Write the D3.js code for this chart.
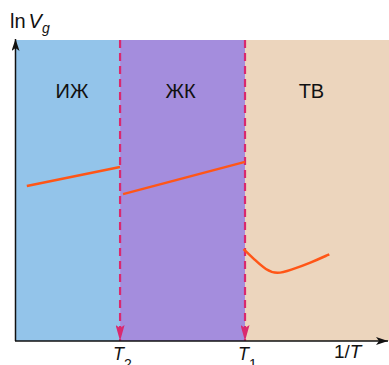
<!DOCTYPE html>
<html>
<head>
<meta charset="utf-8">
<script src="https://cdn.jsdelivr.net/npm/d3@7"></script>
<style>
  body { margin: 0; background: #fff; }
  text { font-family: "Liberation Sans", Arial, sans-serif; }
</style>
</head>
<body>
<svg id="chart" width="389" height="365"></svg>
<script>
// phase regions along 1/T (arbitrary units)
var regions = ["ИЖ", "ЖК", "ТВ"]
var regionStart = [0, 2.79, 6.14]
var regionEnd = [2.79, 6.14, 10]
var regionColors = ["#93c4ea", "#a48ddd", "#ecd5bd"]

// transition temperatures
var transitions = [2.79, 6.14]
var transitionLabels = ["2", "1"]

// ln Vg curves for each phase
var lineIZh = [[0.29, 5.15], [2.79, 5.78]]
var lineZhK = [[2.87, 4.88], [6.14, 5.95]]
var lineTV = [[6.1, 3.05], [6.4, 2.7], [6.7, 2.36], [7.0, 2.22], [7.35, 2.35], [7.9, 2.6], [8.4, 2.88]]

var dimensions = {
    margin: { top: 40, bottom: 24, left: 16, right: 0 },
    width: 389,
    height: 365
}

var svg = d3.select("#chart")

var x = d3.scaleLinear()
    .domain([0, 10])
    .range([dimensions.margin.left, dimensions.width - dimensions.margin.right])

var y = d3.scaleLinear()
    .domain([0, 10])
    .range([dimensions.height - dimensions.margin.bottom, dimensions.margin.top])

var defs = svg.append("defs")
defs.append("marker")
    .attr("id", "ax")
    .attr("viewBox", "0 0 12 8")
    .attr("refX", 12).attr("refY", 4)
    .attr("markerWidth", 12).attr("markerHeight", 8)
    .attr("markerUnits", "userSpaceOnUse")
    .attr("orient", "auto")
    .append("path").attr("d", "M0,0 L12,4 L0,8 L3,4 Z").attr("fill", "#111")
defs.append("marker")
    .attr("id", "tr")
    .attr("viewBox", "0 0 16 9")
    .attr("refX", 16).attr("refY", 4.5)
    .attr("markerWidth", 16).attr("markerHeight", 9)
    .attr("markerUnits", "userSpaceOnUse")
    .attr("orient", "auto")
    .append("path").attr("d", "M0,0 L16,4.5 L0,9 L3,4.5 Z").attr("fill", "#d9296f")

// background bands
svg.append("g")
    .selectAll("rect")
    .data(regions)
    .enter()
    .append("rect")
        .attr("x", function(d, i){ return x(regionStart[i]) })
        .attr("width", function(d, i){ return x(regionEnd[i]) - x(regionStart[i]) })
        .attr("y", y(10))
        .attr("height", y(0) - y(10))
        .attr("fill", function(d, i){ return regionColors[i] })

svg.append("g")
    .selectAll("text")
    .data(regions)
    .enter()
    .append("text")
        .attr("x", function(d, i){ return i == 2 ? x(7.92) : (x(regionStart[i]) + x(regionEnd[i])) / 2 - (i == 0 ? -4 : 2) })
        .attr("y", 98)
        .attr("text-anchor", "middle")
        .attr("font-size", 20)
        .attr("fill", "#111")
        .text(function(d){ return d })

// dashed transition lines
svg.append("g")
    .selectAll("line")
    .data(transitions)
    .enter()
    .append("line")
        .attr("x1", function(d){ return x(d) })
        .attr("x2", function(d){ return x(d) })
        .attr("y1", y(10))
        .attr("y2", y(0))
        .attr("stroke", "#d9296f")
        .attr("stroke-width", 2.2)
        .attr("stroke-dasharray", "8,5")
        .attr("marker-end", "url(#tr)")

// curves
var line = d3.line().x(function(d){ return x(d[0]) }).y(function(d){ return y(d[1]) })
var curve = d3.line().x(function(d){ return x(d[0]) }).y(function(d){ return y(d[1]) }).curve(d3.curveBasis)

svg.append("path").datum(lineIZh).attr("d", line)
    .attr("fill", "none").attr("stroke", "#ff5617").attr("stroke-width", 2.5)
svg.append("path").datum(lineZhK).attr("d", line)
    .attr("fill", "none").attr("stroke", "#ff5617").attr("stroke-width", 2.5)
svg.append("path").datum(lineTV).attr("d", curve)
    .attr("fill", "none").attr("stroke", "#ff5617").attr("stroke-width", 2.5)

// axes
svg.append("line")
    .attr("x1", x(0) - 1).attr("x2", x(10) - 1)
    .attr("y1", y(0)).attr("y2", y(0))
    .attr("stroke", "#111").attr("stroke-width", 1.5)
    .attr("marker-end", "url(#ax)")
svg.append("line")
    .attr("x1", x(0) - 0.5).attr("x2", x(0) - 0.5)
    .attr("y1", y(0)).attr("y2", y(10) - 1)
    .attr("stroke", "#111").attr("stroke-width", 1.5)
    .attr("marker-end", "url(#ax)")

// axis labels
var yl = svg.append("text").attr("x", 10).attr("y", 28).attr("font-size", 20).attr("fill", "#111")
yl.append("tspan").text("ln")
yl.append("tspan").attr("font-style", "italic").attr("dx", 3).text("V")
yl.append("tspan").attr("font-style", "italic").attr("font-size", 14).attr("dy", 5).text("g")

svg.append("g")
    .selectAll("text")
    .data(transitions)
    .enter()
    .append("text")
        .attr("x", function(d){ return x(d) - 7 })
        .attr("y", 360)
        .attr("font-size", 18)
        .attr("fill", "#111")
        .each(function(d, i){
            var t = d3.select(this)
            t.append("tspan").attr("font-style", "italic").text("T")
            t.append("tspan").attr("font-size", 14).attr("dy", 9).text(transitionLabels[i])
        })

var xl = svg.append("text").attr("x", 334).attr("y", 358).attr("font-size", 19).attr("fill", "#111")
xl.append("tspan").text("1/")
xl.append("tspan").attr("font-style", "italic").text("T")
</script>
</body>
</html>
